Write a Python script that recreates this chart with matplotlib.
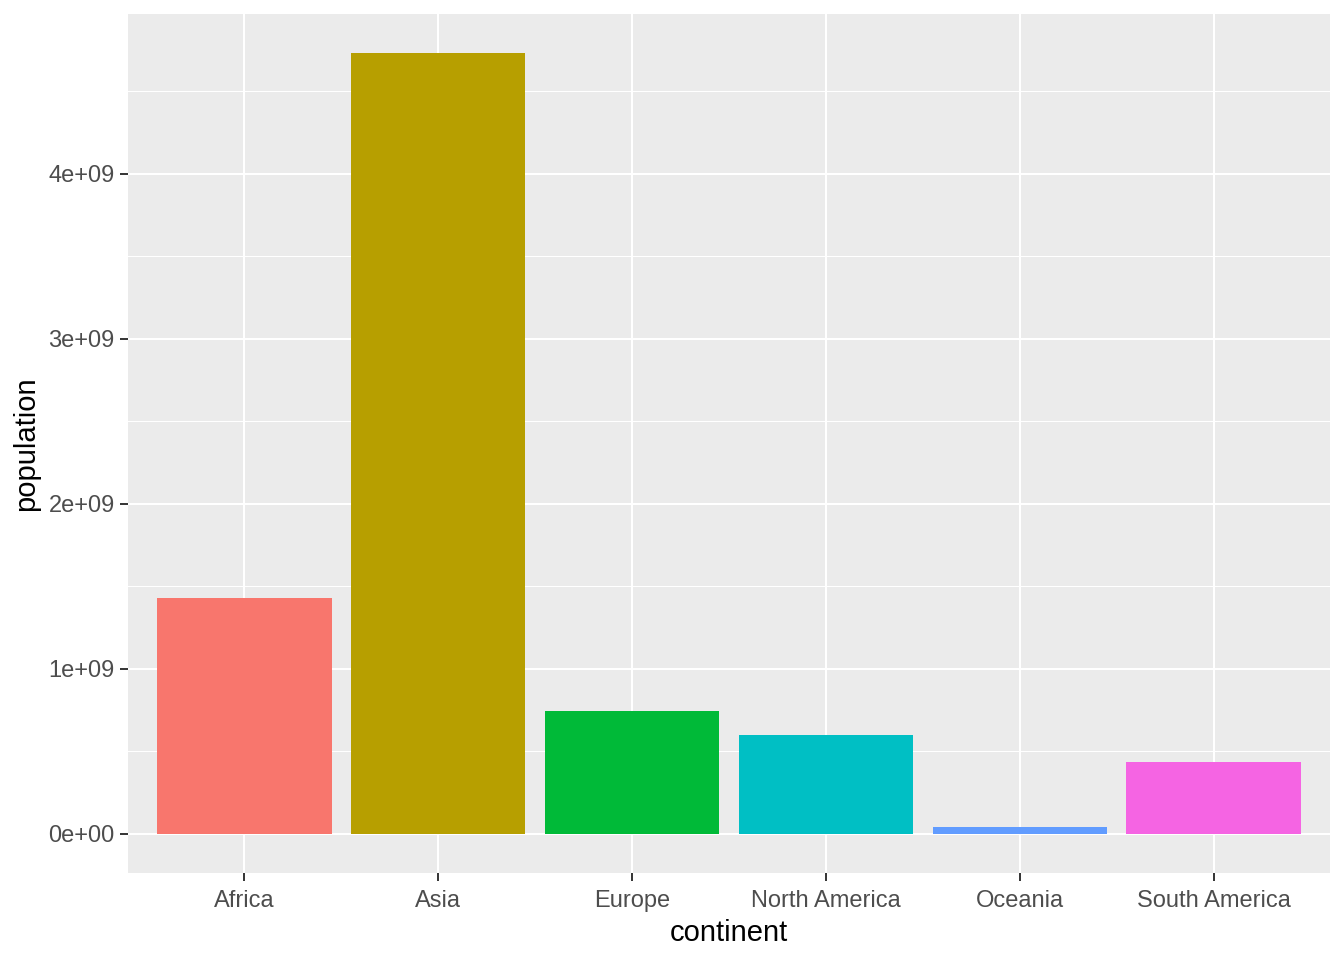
import numpy as np
import matplotlib.pyplot as plt
from matplotlib.ticker import FixedLocator

plt.rcParams['font.family'] = ['Liberation Sans', 'DejaVu Sans']

continents = ["Africa", "Asia", "Europe", "North America", "Oceania", "South America"]
population = [1.43e9, 4.733e9, 0.745e9, 0.600e9, 0.042e9, 0.436e9]
colors = ["#F8766D", "#B79F00", "#00BA38", "#00BFC4", "#619CFF", "#F564E3"]
yticks = [0, 1e9, 2e9, 3e9, 4e9]
ytick_labels = ["0e+00", "1e+09", "2e+09", "3e+09", "4e+09"]

fig = plt.figure(figsize=(13.44, 9.6), dpi=100)
ax = fig.add_axes([128 / 1344, 1 - 873 / 960, (1330 - 128) / 1344, (873 - 14) / 960])
ax.set_facecolor("#EBEBEB")

x = np.arange(len(continents))
ymax = max(population)
ax.set_ylim(-0.05 * ymax, 1.05 * ymax)
ax.set_xlim(-0.6, len(continents) - 0.4)

ax.set_yticks(yticks)
ax.set_yticklabels(ytick_labels)
ax.yaxis.set_minor_locator(FixedLocator([0.5e9, 1.5e9, 2.5e9, 3.5e9, 4.5e9]))
ax.set_xticks(x)
ax.set_xticklabels(continents)

ax.grid(which="major", color="white", linewidth=1.5)
ax.grid(which="minor", axis="y", color="white", linewidth=0.75)
ax.set_axisbelow(True)

ax.bar(x, population, width=0.9, color=colors, zorder=2)

for s in ax.spines.values():
    s.set_visible(False)
ax.tick_params(which="major", length=5.5, width=1.4, color="#333333",
               labelcolor="#4D4D4D", labelsize=17, pad=4)
ax.tick_params(axis="x", which="major", pad=7)
ax.tick_params(which="minor", length=0)

ax.set_xlabel("continent", fontsize=21, color="black", labelpad=5)
ax.set_ylabel("population", fontsize=21, color="black", labelpad=6)

fig.savefig("out.png", dpi=100, facecolor="white")
